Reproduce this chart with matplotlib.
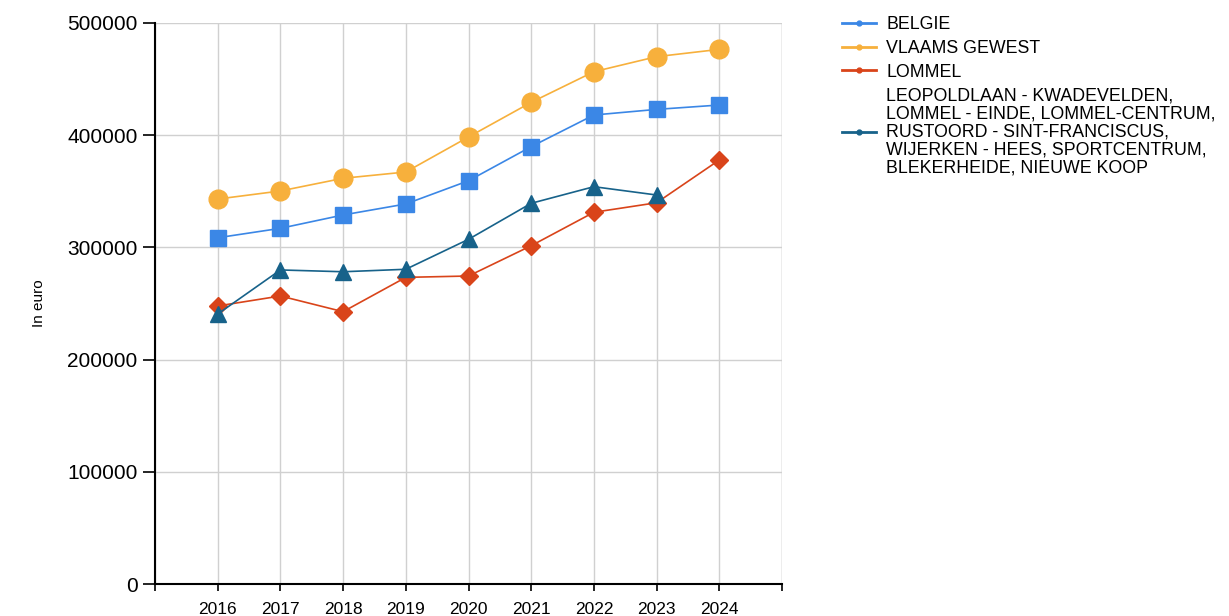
import matplotlib
matplotlib.use("Agg")
import matplotlib.pyplot as plt
from matplotlib.lines import Line2D

plt.rcParams['font.family'] = ['Liberation Sans', 'DejaVu Sans']

years = [2016, 2017, 2018, 2019, 2020, 2021, 2022, 2023, 2024]
belgie = [308600, 317000, 328900, 338700, 359400, 389800, 418000, 423000, 426900]
vlaams = [343100, 350300, 361600, 367200, 398400, 429300, 456600, 470000, 476500]
lommel = [247800, 256700, 242700, 273300, 274500, 301500, 331300, 339800, 377900]
wijken_years = [2016, 2017, 2018, 2019, 2020, 2021, 2022, 2023]
wijken = [240600, 279900, 278300, 280500, 307200, 339300, 354100, 346700]

wijken_label = ("LEOPOLDLAAN - KWADEVELDEN,\nLOMMEL - EINDE, LOMMEL-CENTRUM,\n"
                "RUSTOORD - SINT-FRANCISCUS,\nWIJERKEN - HEES, SPORTCENTRUM,\n"
                "BLEKERHEIDE, NIEUWE KOOP")

c_blue = '#3b87e6'
c_orange = '#f7b03c'
c_red = '#d9441a'
c_teal = '#17628a'

fig = plt.figure(figsize=(12.29, 6.16), dpi=100)
ax = fig.add_axes([155/1229, 1-584/616, (782-155)/1229, (584-23)/616])

ax.plot(years, belgie, color=c_blue, lw=1.2, marker='s', ms=12, mec=c_blue)
ax.plot(years, vlaams, color=c_orange, lw=1.2, marker='o', ms=13.5, mec=c_orange)
ax.plot(years, lommel, color=c_red, lw=1.2, marker='D', ms=9, mec=c_red)
ax.plot(wijken_years, wijken, color=c_teal, lw=1.2, marker='^', ms=11, mec=c_teal)

ax.set_xlim(2015, 2025)
ax.set_ylim(0, 500000)
ax.set_xticks(range(2015, 2026))
ax.set_xticklabels([''] + [str(y) for y in years] + [''])
ax.set_yticks(range(0, 500001, 100000))
ax.tick_params(axis='x', length=5, width=1.2, pad=8, labelsize=12.5, colors='black')
ax.tick_params(axis='y', length=9, width=1.2, pad=3.5, labelsize=15, colors='black')
ax.set_ylabel('In euro', fontsize=11)
ax.yaxis.set_label_coords(-0.174, 0.5)

ax.grid(True, color='#d0d0d0', lw=1)
ax.set_axisbelow(True)
for s in ['top', 'right']:
    ax.spines[s].set_visible(False)
for s in ['left', 'bottom']:
    ax.spines[s].set_linewidth(1.5)
    ax.spines[s].set_zorder(3)
ax.axvline(2025, color='#d0d0d0', lw=1, zorder=0)

handles = [Line2D([], [], color=c, lw=2, marker='o', ms=3.5) for c in [c_blue, c_orange, c_red, c_teal]]
leg = fig.legend(handles, ['BELGIE', 'VLAAMS GEWEST', 'LOMMEL', wijken_label],
                 loc='upper left', bbox_to_anchor=(842/1229, 1-16/616), frameon=False,
                 fontsize=12.8, handlelength=1.9, handletextpad=0.6, labelspacing=0.38,
                 borderpad=0, borderaxespad=0)
for t in leg.get_texts():
    t.set_linespacing(1.08)

fig.savefig('out.png', dpi=100)
